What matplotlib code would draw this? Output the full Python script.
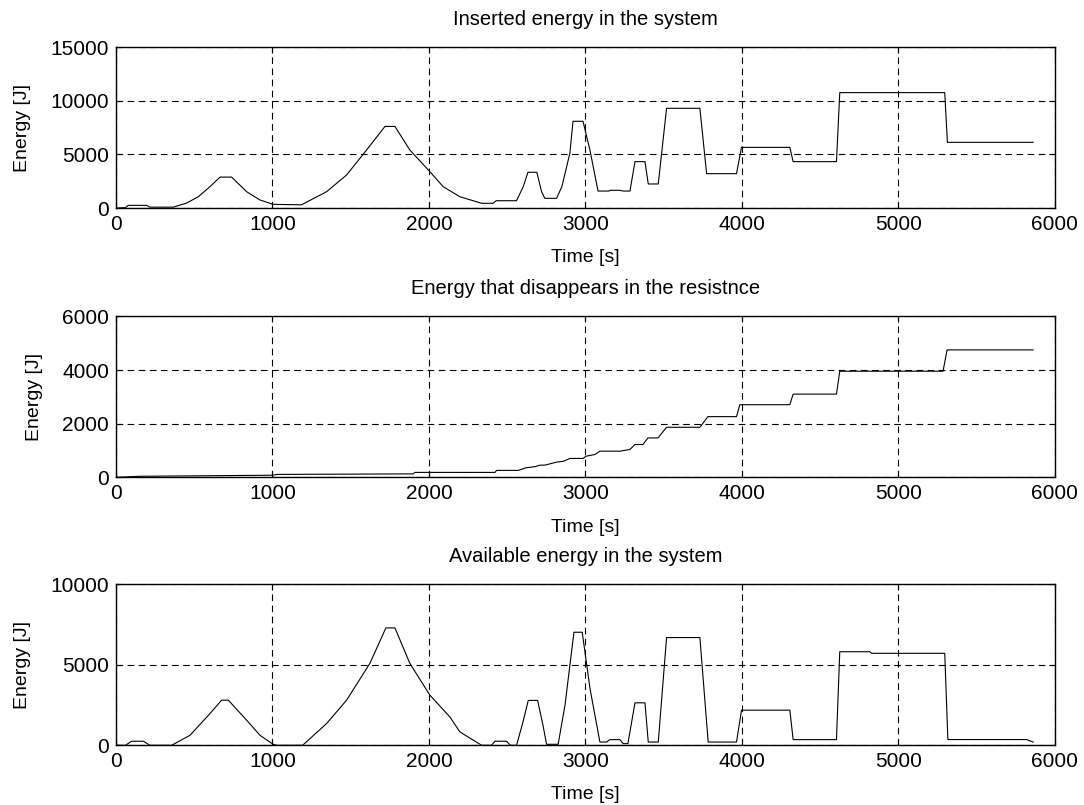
import numpy as np
import matplotlib
matplotlib.use('Agg')
import matplotlib.pyplot as plt

plt.rcParams['font.family'] = ['Liberation Sans', 'DejaVu Sans']

# energy inserted in the system
t_in = [0, 60, 79, 196, 215, 366, 450, 526, 601, 665, 739, 835, 920, 1005, 1186,
        1346, 1474, 1602, 1719, 1783, 1878, 2006, 2091, 2198, 2337, 2410, 2430,
        2560, 2603, 2633, 2690, 2720, 2741, 2816, 2850, 2901, 2921, 2985, 3029,
        3081, 3150, 3160, 3220, 3240, 3285, 3317, 3381, 3402, 3466, 3519, 3732,
        3775, 3966, 3998, 4307, 4328, 4605, 4626, 5297, 5314, 5862]
e_in = [0, 30, 250, 250, 80, 80, 450, 1050, 1990, 2880, 2880, 1520, 750, 340, 300,
        1520, 3080, 5410, 7600, 7600, 5410, 3390, 1990, 1050, 440, 440, 680,
        680, 1990, 3330, 3330, 1520, 900, 900, 2000, 5100, 8080, 8080, 5410,
        1580, 1580, 1650, 1650, 1580, 1580, 4320, 4320, 2240, 2240, 9290, 9290,
        3200, 3200, 5650, 5650, 4320, 4320, 10750, 10750, 6120, 6120]

# energy lost in the resistance
t_res = [0, 150, 1000, 1030, 1900, 1911, 2422, 2433, 2571, 2620, 2680, 2710, 2741,
         2817, 2860, 2901, 2985, 3005, 3060, 3093, 3221, 3285, 3317, 3368, 3400,
         3464, 3519, 3732, 3783, 3966, 3987, 4307, 4328, 4605, 4626, 5286, 5312, 5862]
e_res = [0, 40, 80, 110, 130, 185, 185, 260, 260, 357, 400, 456, 456,
         568, 600, 705, 705, 790, 850, 976, 976, 1039, 1224, 1224, 1470,
         1470, 1866, 1866, 2263, 2263, 2707, 2707, 3103, 3103, 3956, 3956, 4750, 4750]

# available energy
t_av = [0, 60, 100, 175, 217, 356, 473, 601, 675, 718, 835, 920, 1005, 1026, 1193,
        1346, 1474, 1623, 1725, 1783, 1878, 2006, 2134, 2198, 2337, 2400, 2422,
        2497, 2520, 2560, 2600, 2635, 2695, 2730, 2752, 2826, 2870, 2927, 2980,
        3030, 3093, 3136, 3157, 3221, 3242, 3272, 3317, 3381, 3402, 3466, 3519,
        3732, 3785, 3966, 3998, 4307, 4328, 4605, 4626, 4818, 4829, 5297, 5317,
        5820, 5862]
e_av = [0, 0, 250, 250, 0, 0, 620, 1970, 2800, 2800, 1560, 620, 60, 0, 0,
        1350, 2800, 5090, 7290, 7290, 5090, 3115, 1760, 830, 0, 0, 250,
        250, 0, 0, 1400, 2785, 2785, 1200, 60, 60, 2500, 7020, 7020,
        3500, 200, 200, 350, 350, 100, 100, 2636, 2636, 200, 200, 6690,
        6690, 200, 200, 2180, 2180, 350, 350, 5810, 5810, 5710, 5710, 355,
        355, 200]

titles = ['Inserted energy in the system',
          'Energy that disappears in the resistnce',
          'Available energy in the system']
yticks = [[0, 5000, 10000, 15000], [0, 2000, 4000, 6000], [0, 5000, 10000]]
series = [(t_in, e_in), (t_res, e_res), (t_av, e_av)]

fig = plt.figure(figsize=(10.84, 8.05), dpi=100)
bottoms = [0.7416, 0.407, 0.0742]
axs = [fig.add_axes([0.107, b, 0.866, 0.2]) for b in bottoms]

for ax, (t, e), title, yt in zip(axs, series, titles, yticks):
    ax.plot(t, e, color='black', linewidth=0.8)
    ax.set_xlim(0, 6000)
    ax.set_ylim(yt[0], yt[-1])
    ax.set_xticks([0, 1000, 2000, 3000, 4000, 5000, 6000])
    ax.set_yticks(yt)
    ax.grid(True, color='black', linestyle=(0, (6, 4)), linewidth=0.8)
    ax.tick_params(direction='in', top=True, right=True, labelsize=15,
                   length=4, pad=5)
    ax.set_title(title, fontsize=14.5, pad=16)
    ax.set_xlabel('Time [s]', fontsize=14, labelpad=11)
    ax.set_ylabel('Energy [J]', fontsize=14, labelpad=14)
    for s in ax.spines.values():
        s.set_linewidth(1.0)

plt.savefig('out.png', dpi=100)
